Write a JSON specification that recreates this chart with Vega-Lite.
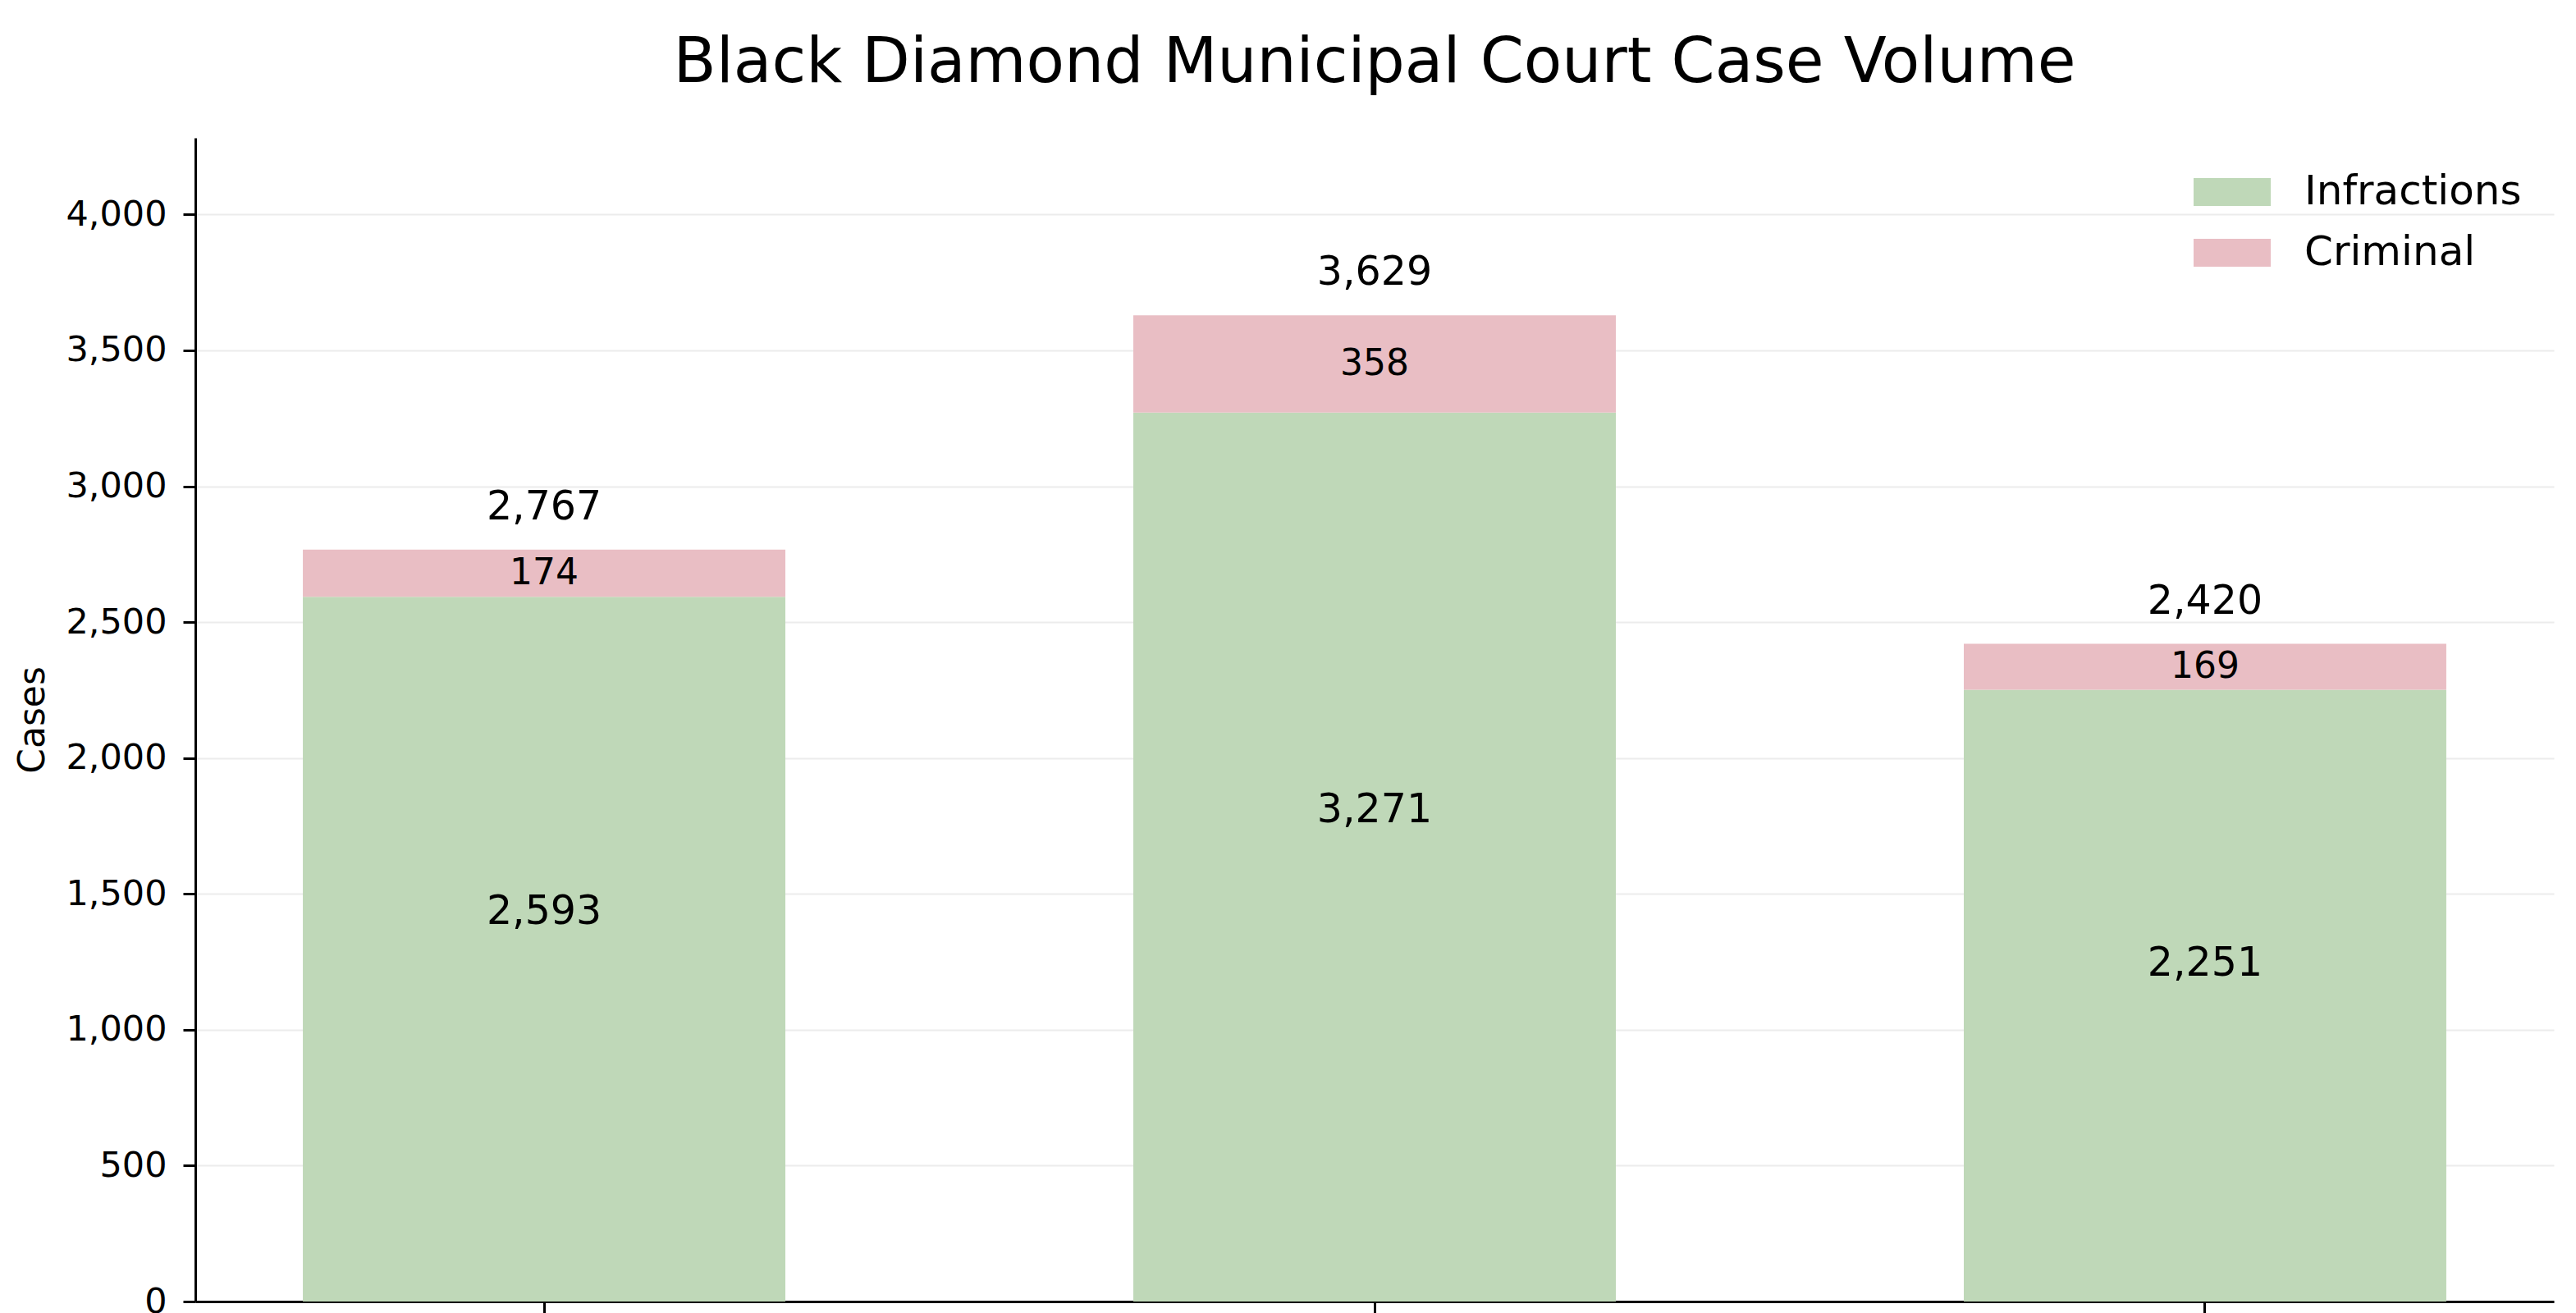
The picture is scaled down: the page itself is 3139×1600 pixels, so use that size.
{
  "$schema": "https://vega.github.io/schema/vega-lite/v6.json",
  "width": 2874,
  "height": 1418,
  "autosize": {"type": "none"},
  "padding": {"left": 238, "top": 168, "right": 27, "bottom": 14},
  "background": "white",
  "config": {
    "view": {"stroke": null},
    "font": "DejaVu Sans",
    "text": {"font": "DejaVu Sans", "color": "black"}
  },
  "title": {
    "text": "Black Diamond Municipal Court Case Volume",
    "font": "DejaVu Sans",
    "fontSize": 76,
    "fontWeight": "normal",
    "color": "black",
    "anchor": "middle",
    "frame": "group",
    "baseline": "alphabetic",
    "offset": -8
  },
  "data": {
    "values": [
      {"period": "2021", "Infractions": 2593, "Criminal": 174, "total": 2767},
      {"period": "2022", "Infractions": 3271, "Criminal": 358, "total": 3629},
      {"period": "2023", "Infractions": 2251, "Criminal": 169, "total": 2420}
    ]
  },
  "encoding": {
    "x": {
      "field": "period",
      "type": "nominal",
      "sort": null,
      "scale": {"paddingInner": 0.419, "paddingOuter": 0.1295},
      "axis": {
        "title": null,
        "labels": false,
        "ticks": true,
        "tickSize": 14,
        "tickWidth": 3,
        "tickColor": "black",
        "domainColor": "black",
        "domainWidth": 3,
        "grid": false
      }
    }
  },
  "layer": [
    {
      "transform": [
        {"fold": ["Infractions", "Criminal"], "as": ["type", "cases"]},
        {"calculate": "indexof(['Infractions','Criminal'], datum.type)", "as": "ord"}
      ],
      "mark": {"type": "bar"},
      "encoding": {
        "y": {
          "field": "cases",
          "type": "quantitative",
          "stack": "zero",
          "scale": {"domain": [0, 4282], "nice": false, "zero": true},
          "axis": {
            "title": "Cases",
            "titleFontSize": 44,
            "titleFontWeight": "normal",
            "titleFont": "DejaVu Sans",
            "titleColor": "black",
            "titlePadding": 17,
            "values": [0, 500, 1000, 1500, 2000, 2500, 3000, 3500, 4000],
            "labelExpr": "format(datum.value, ',')",
            "labelFontSize": 43,
            "labelFont": "DejaVu Sans",
            "labelColor": "black",
            "labelPadding": 20,
            "tickSize": 15,
            "tickWidth": 3,
            "tickColor": "black",
            "domainColor": "black",
            "domainWidth": 3,
            "grid": true,
            "gridColor": "#ececec",
            "gridWidth": 2
          }
        },
        "order": {"field": "ord", "type": "quantitative"},
        "color": {
          "field": "type",
          "type": "nominal",
          "scale": {"domain": ["Infractions", "Criminal"], "range": ["#bfd8b8", "#e9bec4"]},
          "legend": {
            "title": null,
            "orient": "none",
            "legendX": 2435,
            "legendY": 19,
            "symbolType": "M-1,-0.36L1,-0.36L1,0.36L-1,0.36Z",
            "symbolSize": 8836,
            "symbolStrokeWidth": 0,
            "symbolOpacity": 1,
            "labelFontSize": 50,
            "labelFont": "DejaVu Sans",
            "labelColor": "black",
            "labelOffset": 41,
            "labelLimit": 0,
            "rowPadding": 2,
            "padding": 0
          }
        }
      }
    },
    {
      "mark": {"type": "text", "fontSize": 49, "baseline": "middle", "dy": -52},
      "encoding": {
        "y": {"field": "total", "type": "quantitative"},
        "text": {"field": "total", "type": "quantitative", "format": ","}
      }
    },
    {
      "transform": [{"calculate": "datum.Infractions + datum.Criminal / 2", "as": "cmid"}],
      "mark": {"type": "text", "fontSize": 44, "baseline": "middle"},
      "encoding": {
        "y": {"field": "cmid", "type": "quantitative"},
        "text": {"field": "Criminal", "type": "quantitative", "format": ","}
      }
    },
    {
      "transform": [{"calculate": "datum.Infractions * 0.553", "as": "imid"}],
      "mark": {"type": "text", "fontSize": 49, "baseline": "middle"},
      "encoding": {
        "y": {"field": "imid", "type": "quantitative"},
        "text": {"field": "Infractions", "type": "quantitative", "format": ","}
      }
    }
  ]
}
